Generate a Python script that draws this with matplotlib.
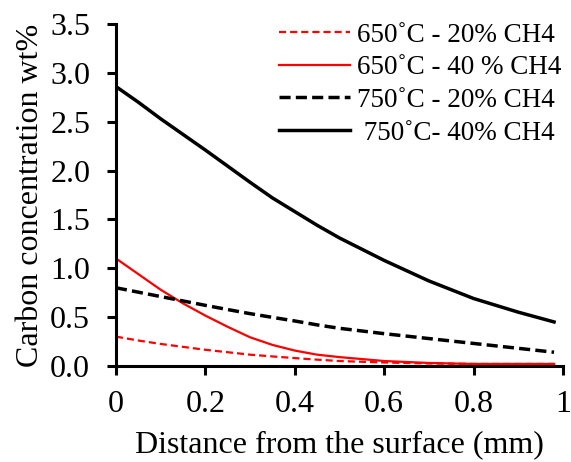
import numpy as np
import matplotlib
matplotlib.use('Agg')
import matplotlib.pyplot as plt
from matplotlib.ticker import FormatStrFormatter, FuncFormatter

plt.rcParams['font.family'] = ['Liberation Serif', 'DejaVu Serif']

distancia = [0.0, 0.05, 0.1, 0.15, 0.2, 0.25, 0.3, 0.35, 0.4, 0.45, 0.5,
             0.6, 0.7, 0.8, 0.9, 0.98]

c650_20 = [0.30, 0.26, 0.225, 0.195, 0.165, 0.14, 0.115, 0.097, 0.08, 0.064, 0.05,
           0.035, 0.025, 0.02, 0.02, 0.02]
c650_40 = [1.10, 0.94, 0.78, 0.64, 0.515, 0.40, 0.293, 0.215, 0.157, 0.115, 0.09,
           0.05, 0.03, 0.02, 0.02, 0.02]
c750_20 = [0.80, 0.755, 0.71, 0.665, 0.62, 0.577, 0.535, 0.497, 0.46, 0.42, 0.385,
           0.33, 0.28, 0.23, 0.18, 0.14]
c750_40 = [2.86, 2.70, 2.53, 2.37, 2.21, 2.045, 1.88, 1.72, 1.58, 1.44, 1.31,
           1.08, 0.87, 0.69, 0.55, 0.45]

rotulos = ['650˚C - 20% CH4', '650˚C - 40 % CH4', '750˚C - 20% CH4', ' 750˚C- 40% CH4']

fig = plt.figure(figsize=(5.71, 4.62), dpi=100)
ax = fig.add_axes([0.203, 0.208, 0.783, 0.740])

ax.plot(distancia, c650_20, color='red', linewidth=1.6, dashes=(3.2, 1.8), label=rotulos[0])
ax.plot(distancia, c650_40, color='red', linewidth=1.6, label=rotulos[1])
ax.plot(distancia, c750_20, color='black', linewidth=2.5, dashes=(3.2, 1.5), label=rotulos[2])
ax.plot(distancia, c750_40, color='black', linewidth=2.5, label=rotulos[3])

ax.set_xlim(0, 1)
ax.set_ylim(0, 3.5)
ax.set_xticks([0, 0.2, 0.4, 0.6, 0.8, 1])
ax.set_yticks(np.arange(0, 3.51, 0.5))
ax.xaxis.set_major_formatter(FuncFormatter(lambda v, p: '%g' % v))
ax.yaxis.set_major_formatter(FormatStrFormatter('%.1f'))

for lado in ['top', 'right']:
    ax.spines[lado].set_visible(False)
for lado in ['left', 'bottom']:
    ax.spines[lado].set_linewidth(2.2)
ax.spines['left'].set_zorder(5)
ax.tick_params(axis='both', direction='out', length=6.5, width=2.2, labelsize=23)
ax.tick_params(axis='y', pad=12)
ax.tick_params(axis='x', pad=11)

ax.set_xlabel('Distance from the surface (mm)', fontsize=23, labelpad=8)
ax.set_ylabel('Carbon concentration wt%', fontsize=23, labelpad=4)

ax.legend(loc='upper right', bbox_to_anchor=(1.05, 1.075), frameon=False, fontsize=19.5,
          handlelength=2.6, handletextpad=0.25, labelspacing=0.28)

fig.savefig('out.png', dpi=100)
